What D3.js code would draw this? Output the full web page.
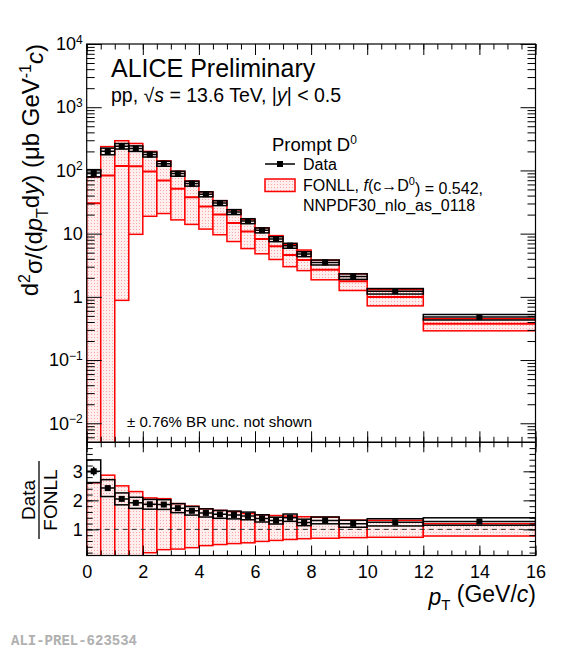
<!DOCTYPE html>
<html lang="en">
<head>
<meta charset="UTF-8">
<title>Prompt D0 pT-differential cross section</title>
<script src="https://cdn.jsdelivr.net/npm/d3@7"></script>
<style>
    body { margin: 0; background: #fff; }
    svg { font-family: "Liberation Sans", Arial, Helvetica, sans-serif; }
    .axis path { display: none; }
    .axis line { stroke: #000; stroke-width: 1; }
    .axis text { font-size: 18px; fill: #000; }
</style>
</head>
<body>
<svg width="576" height="650"></svg>
<script>
// pT bins (GeV/c)
const binEdges = [0, 0.5, 1, 1.5, 2, 2.5, 3, 3.5, 4, 4.5, 5, 5.5, 6, 6.5, 7, 7.5, 8, 9, 10, 12, 16];

// measured cross section (ub GeV^-1 c)
const dataVal  = [91, 201, 242, 222, 179, 128, 89, 62, 42, 30.5, 22, 15.8, 11.3, 8.2, 6.45, 4.75, 3.51, 2.1, 1.23, 0.478];
// relative uncertainties
const dataSyst = [0.13, 0.12, 0.1, 0.1, 0.09, 0.09, 0.09, 0.09, 0.09, 0.09, 0.09, 0.09, 0.09, 0.09, 0.09, 0.09, 0.09, 0.1, 0.1, 0.1];
const dataStat = [0.05, 0.03, 0.02, 0.02, 0.02, 0.02, 0.02, 0.02, 0.02, 0.02, 0.02, 0.02, 0.02, 0.02, 0.02, 0.02, 0.02, 0.02, 0.03, 0.03];

// FONLL prediction
const fonllCentral = [30.3, 83, 118, 116, 96, 69, 51.4, 37.8, 26.8, 20.1, 14.7, 10.8, 8.2, 6.3, 4.6, 3.83, 2.68, 1.76, 0.99, 0.376];
const fonllMin     = [0.001, 0.001, 0.88, 9.75, 18.8, 20.8, 16.5, 14, 11.8, 9.6, 7.5, 5.8, 4.8, 3.9, 3.0, 2.6, 1.86, 1.26, 0.72, 0.29];
const fonllMax     = [79, 238, 295, 267, 200, 142, 97, 68, 45.8, 33.2, 23.7, 16.7, 12.3, 9.3, 6.7, 5.5, 3.8, 2.32, 1.3, 0.45];

// axis ticks
const xTicks = [0, 2, 4, 6, 8, 10, 12, 14, 16];
const yTicksTop = [1e-2, 1e-1, 1, 10, 1e2, 1e3, 1e4];
const yTicksRatio = [1, 2, 3];

const svg = d3.select("svg");

// pad geometry
const left = 86.7, right = 535.5;
const topY = 44, topBottom = 442.3, ratioBottom = 555.5;

const x = d3.scaleLinear().domain([0, 16]).range([left, right]);
const y = d3.scaleLog().domain([5e-3, 1e4]).range([topBottom, topY]);
const yr = d3.scaleLinear().domain([0.1, 4]).range([ratioBottom, topBottom]);

const bins = binEdges.slice(0, -1).map((lo, i) => ({
    lo: lo,
    hi: binEdges[i + 1],
    mid: (lo + binEdges[i + 1]) / 2,
    val: dataVal[i],
    syst: dataSyst[i],
    stat: dataStat[i],
    c: fonllCentral[i],
    min: fonllMin[i],
    max: fonllMax[i]
}));

// dotted fill like ROOT fill style
const defs = svg.append("defs");
const pat = defs.append("pattern")
    .attr("id", "dots")
    .attr("width", 3).attr("height", 3)
    .attr("patternUnits", "userSpaceOnUse");
pat.append("rect").attr("width", 3).attr("height", 3).attr("fill", "#ffeeee");
pat.append("rect").attr("x", 1).attr("y", 1).attr("width", 1).attr("height", 1).attr("fill", "#ffa4a4");

defs.append("clipPath").attr("id", "clipTop")
    .append("rect").attr("x", left).attr("y", topY)
    .attr("width", right - left).attr("height", topBottom - topY);
defs.append("clipPath").attr("id", "clipRatio")
    .append("rect").attr("x", left).attr("y", topBottom)
    .attr("width", right - left).attr("height", ratioBottom - topBottom);

// ---------- top panel ----------
const gTop = svg.append("g").attr("clip-path", "url(#clipTop)");

gTop.selectAll(".band")
    .data(bins)
    .join("rect")
    .attr("x", d => x(d.lo))
    .attr("y", d => y(d.max))
    .attr("width", d => x(d.hi) - x(d.lo))
    .attr("height", d => y(d.min) - y(d.max))
    .attr("fill", "url(#dots)")
    .attr("stroke", "#ff0000")
    .attr("stroke-width", 1.5);

gTop.selectAll(".central")
    .data(bins)
    .join("line")
    .attr("x1", d => x(d.lo)).attr("x2", d => x(d.hi))
    .attr("y1", d => y(d.c)).attr("y2", d => y(d.c))
    .attr("stroke", "#ff0000")
    .attr("stroke-width", 2);

drawData(gTop, d => y(d.val), d => y(d.val * (1 + d.syst)), d => y(d.val * (1 - d.syst)),
    d => y(d.val * (1 + d.stat)), d => y(d.val * (1 - d.stat)));

// ---------- ratio panel ----------
const gRatio = svg.append("g").attr("clip-path", "url(#clipRatio)");

gRatio.selectAll(".rband")
    .data(bins)
    .join("rect")
    .attr("x", d => x(d.lo))
    .attr("y", d => yr(d.max / d.c))
    .attr("width", d => x(d.hi) - x(d.lo))
    .attr("height", d => yr(d.min / d.c) - yr(d.max / d.c))
    .attr("fill", "url(#dots)")
    .attr("stroke", "#ff0000")
    .attr("stroke-width", 1.5);

gRatio.append("line")
    .attr("x1", left).attr("x2", right)
    .attr("y1", yr(1)).attr("y2", yr(1))
    .attr("stroke", "#333")
    .attr("stroke-dasharray", "5,4");

drawData(gRatio, d => yr(d.val / d.c), d => yr(d.val * (1 + d.syst) / d.c), d => yr(d.val * (1 - d.syst) / d.c),
    d => yr(d.val * (1 + d.stat) / d.c), d => yr(d.val * (1 - d.stat) / d.c));

function drawData(g, yv, ysHi, ysLo, ytHi, ytLo) {
    g.selectAll(".syst")
        .data(bins)
        .join("rect")
        .attr("x", d => x(d.lo))
        .attr("y", ysHi)
        .attr("width", d => x(d.hi) - x(d.lo))
        .attr("height", d => ysLo(d) - ysHi(d))
        .attr("fill", "none")
        .attr("stroke", "#000")
        .attr("stroke-width", 1.5);
    g.selectAll(".xerr")
        .data(bins)
        .join("line")
        .attr("x1", d => x(d.lo)).attr("x2", d => x(d.hi))
        .attr("y1", yv).attr("y2", yv)
        .attr("stroke", "#000").attr("stroke-width", 1.5);
    g.selectAll(".yerr")
        .data(bins)
        .join("line")
        .attr("x1", d => x(d.mid)).attr("x2", d => x(d.mid))
        .attr("y1", ytHi).attr("y2", ytLo)
        .attr("stroke", "#000").attr("stroke-width", 1.5);
    g.selectAll(".marker")
        .data(bins)
        .join("rect")
        .attr("x", d => x(d.mid) - 3)
        .attr("y", d => yv(d) - 3)
        .attr("width", 6).attr("height", 6)
        .attr("fill", "#000");
}

// ---------- axes ----------
const xMinor = d3.range(0, 16.01, 0.5);
const logMinor = [];
for (let e = -3; e < 4; e++) for (let m = 2; m < 10; m++) {
    const v = m * Math.pow(10, e);
    if (v > 5e-3 && v < 1e4) logMinor.push(v);
}
const rMinor = d3.range(0.2, 4, 0.2);

function ticks(axisFn, scale, values, size, tx, ty) {
    svg.append("g").attr("class", "axis")
        .attr("transform", `translate(${tx},${ty})`)
        .call(axisFn(scale).tickValues(values).tickSize(size).tickFormat(""));
}

// top panel
ticks(d3.axisBottom, x, xMinor, -5.5, 0, topBottom);
ticks(d3.axisBottom, x, xTicks, -11, 0, topBottom);
ticks(d3.axisTop, x, xMinor, -5.5, 0, topY);
ticks(d3.axisTop, x, xTicks, -11, 0, topY);
ticks(d3.axisLeft, y, logMinor, -8, left, 0);
ticks(d3.axisRight, y, logMinor, -8, right, 0);
ticks(d3.axisRight, y, yTicksTop, -15, right, 0);

svg.append("g").attr("class", "axis")
    .attr("transform", `translate(${left},0)`)
    .call(d3.axisLeft(y).tickValues(yTicksTop).tickSize(-15).tickPadding(4).tickFormat(""))
    .selectAll(".tick text")
    .each(function (d) {
        const t = d3.select(this).attr("font-size", 17);
        const e = Math.round(Math.log10(d));
        if (e === 0) { t.text("1"); return; }
        if (e === 1) { t.text("10"); return; }
        t.append("tspan").text("10");
        t.append("tspan").attr("dy", "-0.55em").attr("font-size", 12)
            .text(e < 0 ? "\u2212" + (-e) : e);
    });

// ratio panel
ticks(d3.axisBottom, x, xMinor, -5, 0, ratioBottom);
ticks(d3.axisTop, x, xMinor, -5, 0, topBottom);
ticks(d3.axisTop, x, xTicks, -10, 0, topBottom);
ticks(d3.axisLeft, yr, rMinor, -6, left, 0);
ticks(d3.axisRight, yr, rMinor, -6, right, 0);
ticks(d3.axisRight, yr, yTicksRatio, -12, right, 0);
ticks(d3.axisLeft, yr, yTicksRatio, -12, left, 0);

svg.append("g").attr("class", "axis")
    .attr("transform", `translate(0,${ratioBottom})`)
    .call(d3.axisBottom(x).tickValues(xTicks).tickSize(-10).tickPadding(6).tickFormat(d3.format("d")))
    .selectAll("text").attr("dy", "0.9em").attr("font-size", 19);

svg.append("g").attr("class", "axis")
    .attr("transform", `translate(${left},0)`)
    .call(d3.axisLeft(yr).tickValues(yTicksRatio).tickSize(0).tickPadding(4).tickFormat(d3.format("d")))
    .selectAll("text").attr("font-size", 19);

// frames
[[topY, topBottom], [topBottom, ratioBottom]].forEach(([a, b]) => {
    svg.append("rect")
        .attr("x", left).attr("y", a)
        .attr("width", right - left).attr("height", b - a)
        .attr("fill", "none").attr("stroke", "#000").attr("stroke-width", 1.2);
});

// ---------- texts ----------
svg.append("text").attr("x", 111).attr("y", 77).attr("font-size", 25).text("ALICE Preliminary");

const sub = svg.append("text").attr("x", 111).attr("y", 102).attr("font-size", 19.5);
sub.append("tspan").text("pp, \u221A");
sub.append("tspan").attr("font-style", "italic").text("s");
sub.append("tspan").text(" = 13.6 TeV, |");
sub.append("tspan").attr("font-style", "italic").text("y");
sub.append("tspan").text("| < 0.5");

// legend
const leg = svg.append("text").attr("x", 272).attr("y", 151).attr("font-size", 18.5);
leg.append("tspan").text("Prompt D");
leg.append("tspan").attr("dy", "-0.55em").attr("font-size", 12).text("0");

svg.append("line").attr("x1", 265).attr("x2", 295).attr("y1", 164).attr("y2", 164)
    .attr("stroke", "#000").attr("stroke-width", 1.5);
svg.append("rect").attr("x", 277).attr("y", 161).attr("width", 6).attr("height", 6).attr("fill", "#000");
svg.append("text").attr("x", 303).attr("y", 170).attr("font-size", 16).text("Data");

svg.append("rect").attr("x", 265).attr("y", 179).attr("width", 30).attr("height", 12.5)
    .attr("fill", "url(#dots)").attr("stroke", "#ff0000").attr("stroke-width", 1.5);
const fl = svg.append("text").attr("x", 303).attr("y", 191).attr("font-size", 16);
fl.append("tspan").text("FONLL, ");
fl.append("tspan").attr("font-style", "italic").text("f");
fl.append("tspan").text("(c\u2192D");
fl.append("tspan").attr("dy", "-0.55em").attr("font-size", 11).text("0");
fl.append("tspan").attr("dy", "0.55em").text(") = 0.542,");
svg.append("text").attr("x", 303).attr("y", 211).attr("font-size", 16).text("NNPDF30_nlo_as_0118");

svg.append("text").attr("x", 127).attr("y", 427).attr("font-size", 15).text("\u00B1 0.76% BR unc. not shown");

// y title, top panel
const yt = svg.append("text")
    .attr("transform", "translate(38,44) rotate(-90)")
    .attr("text-anchor", "end")
    .attr("font-size", 24);
yt.append("tspan").text("d");
yt.append("tspan").attr("dy", "-0.5em").attr("font-size", 16).text("2");
yt.append("tspan").attr("dy", "0.5em").text("\u03C3/(d");
yt.append("tspan").attr("font-style", "italic").text("p");
yt.append("tspan").attr("dy", "0.35em").attr("font-size", 16).text("T");
yt.append("tspan").attr("dy", "-0.35em").text("d");
yt.append("tspan").attr("font-style", "italic").text("y");
yt.append("tspan").text(") (\u03BCb GeV");
yt.append("tspan").attr("dy", "-0.5em").attr("font-size", 16).text("-1");
yt.append("tspan").attr("dy", "0.5em").attr("font-style", "italic").text("c");
yt.append("tspan").text(")");

// y title, ratio panel
svg.append("text")
    .attr("transform", "translate(35,500) rotate(-90)")
    .attr("text-anchor", "middle").attr("font-size", 19).text("Data");
svg.append("line").attr("x1", 39).attr("x2", 39).attr("y1", 461).attr("y2", 539)
    .attr("stroke", "#000").attr("stroke-width", 1.3);
svg.append("text")
    .attr("transform", "translate(57,500) rotate(-90)")
    .attr("text-anchor", "middle").attr("font-size", 19).text("FONLL");

// x title
const xt = svg.append("text").attr("x", 536).attr("y", 605)
    .attr("text-anchor", "end").attr("font-size", 23);
xt.append("tspan").attr("font-style", "italic").text("p");
xt.append("tspan").attr("dy", "0.35em").attr("font-size", 15).text("T");
xt.append("tspan").attr("dy", "-0.35em").text(" (GeV/");
xt.append("tspan").attr("font-style", "italic").text("c");
xt.append("tspan").text(")");

svg.append("text").attr("x", 11).attr("y", 645)
    .attr("font-family", "'Liberation Mono', 'DejaVu Sans Mono', monospace")
    .attr("font-weight", "bold").attr("font-size", 14).attr("fill", "#b0b0b0")
    .text("ALI-PREL-623534");
</script>
</body>
</html>
